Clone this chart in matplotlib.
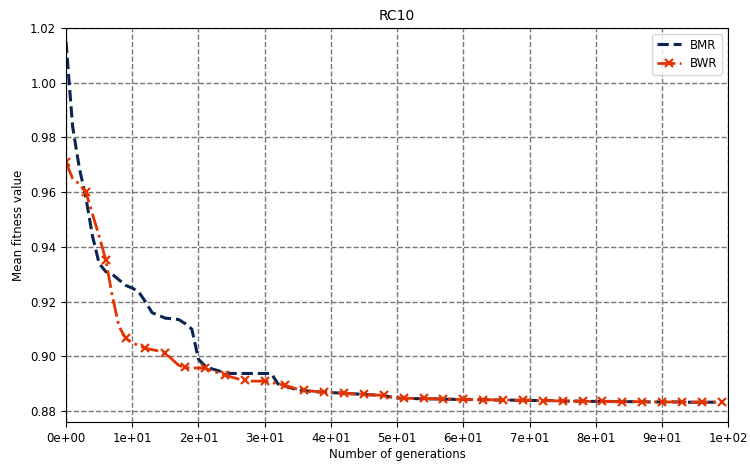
import matplotlib
matplotlib.use("Agg")
import matplotlib.pyplot as plt
import numpy as np

generations = list(range(100))

bmr = [1.0150, 0.9840, 0.9690, 0.9580, 0.9440, 0.9340, 0.9310, 0.9300, 0.9280, 0.9260,
       0.9250, 0.9235, 0.9200, 0.9160, 0.9150, 0.9140, 0.9138, 0.9135, 0.9120, 0.9100,
       0.8990, 0.8965, 0.8955, 0.8948, 0.8940, 0.8938, 0.8938, 0.8938, 0.8938, 0.8938,
       0.8938, 0.8938, 0.8900, 0.8893, 0.8885, 0.8878, 0.8875, 0.8873, 0.8871, 0.8869,
       0.8868, 0.8867, 0.8865, 0.8864, 0.8863, 0.8861, 0.8860, 0.8859, 0.8857, 0.8852,
       0.8849, 0.8847, 0.8847, 0.8846, 0.8846, 0.8845, 0.8845, 0.8844, 0.8844, 0.8843,
       0.8843, 0.8843, 0.8842, 0.8842, 0.8842, 0.8841, 0.8841, 0.8841, 0.8840, 0.8840,
       0.8840, 0.8839, 0.8839, 0.8839, 0.8838, 0.8838, 0.8837, 0.8837, 0.8837, 0.8836,
       0.8836, 0.8836, 0.8836, 0.8835, 0.8835, 0.8835, 0.8835, 0.8835, 0.8834, 0.8834,
       0.8834, 0.8834, 0.8834, 0.8834, 0.8833, 0.8833, 0.8833, 0.8833, 0.8833, 0.8833]

bwr = [0.9709, 0.9650, 0.9630, 0.9600, 0.9520, 0.9440, 0.9353, 0.9220, 0.9110, 0.9067,
       0.9050, 0.9040, 0.9030, 0.9025, 0.9020, 0.9013, 0.8990, 0.8968, 0.8960, 0.8958,
       0.8958, 0.8957, 0.8948, 0.8940, 0.8932, 0.8925, 0.8918, 0.8913, 0.8910, 0.8910,
       0.8910, 0.8905, 0.8900, 0.8895, 0.8888, 0.8880, 0.8877, 0.8874, 0.8871, 0.8869,
       0.8868, 0.8867, 0.8866, 0.8864, 0.8863, 0.8862, 0.8860, 0.8859, 0.8858, 0.8853,
       0.8849, 0.8847, 0.8847, 0.8847, 0.8847, 0.8846, 0.8845, 0.8844, 0.8844, 0.8843,
       0.8843, 0.8843, 0.8842, 0.8842, 0.8842, 0.8841, 0.8841, 0.8841, 0.8840, 0.8840,
       0.8840, 0.8839, 0.8839, 0.8839, 0.8838, 0.8838, 0.8837, 0.8837, 0.8837, 0.8836,
       0.8836, 0.8836, 0.8836, 0.8835, 0.8835, 0.8835, 0.8835, 0.8835, 0.8834, 0.8834,
       0.8834, 0.8834, 0.8834, 0.8834, 0.8833, 0.8833, 0.8833, 0.8833, 0.8833, 0.8833]

fig = plt.figure(figsize=(7.5, 4.66), dpi=100)
ax = fig.add_axes([0.088, 0.094, 0.883, 0.846])

ax.plot(generations, bmr, linestyle='--', color='#0a2552', linewidth=2.2, label='BMR')
ax.plot(generations, bwr, linestyle='-.', color='#e43300', linewidth=2.0,
        marker='x', markersize=6, markeredgewidth=1.6, markevery=3, label='BWR')

ax.set_xlim(0, 100)
ax.set_ylim(0.876, 1.02)
ax.set_xticks(np.arange(0, 101, 10))
ax.set_xticklabels(['%.0e' % t for t in np.arange(0, 101, 10)])
ax.set_yticks([0.88, 0.90, 0.92, 0.94, 0.96, 0.98, 1.00, 1.02])
ax.tick_params(labelsize=8.5)
ax.grid(True, linestyle='--', color='#777777', linewidth=1.0)

ax.set_title('RC10', fontsize=10)
ax.set_xlabel('Number of generations', fontsize=8.5, labelpad=2)
ax.set_ylabel('Mean fitness value', fontsize=8.5)
ax.legend(loc='upper right', fontsize=8.5)

fig.savefig('out.png', dpi=100)
